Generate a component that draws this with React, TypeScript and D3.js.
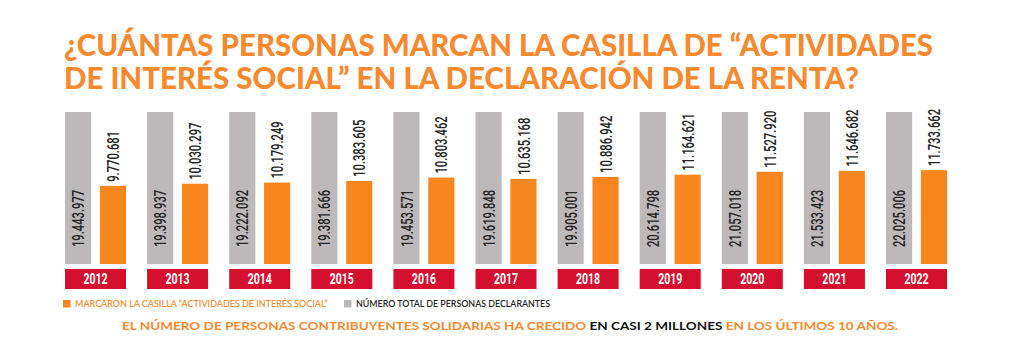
import React from "react";
import * as d3 from "d3";

const years = ["2012","2013","2014","2015","2016","2017","2018","2019","2020","2021","2022"];
const totalDeclarantes = [19443977,19398937,19222092,19381666,19453571,19619848,19905001,20614798,21057018,21533423,22025006];
const marcaron = [9770681,10030297,10179249,10383605,10803462,10635168,10886942,11164621,11527920,11646682,11733662];
const seriesKeys = ["total","marcaron"];
const titleLines = ["¿CUÁNTAS PERSONAS MARCAN LA CASILLA DE “ACTIVIDADES","DE INTERÉS SOCIAL” EN LA DECLARACIÓN DE LA RENTA?"];
const legendLabels = ["MARCARON LA CASILLA “ACTIVIDADES DE INTERÉS SOCIAL”","NÚMERO TOTAL DE PERSONAS DECLARANTES"];
const footerParts = [
  { t: "EL NÚMERO DE PERSONAS CONTRIBUYENTES SOLIDARIAS HA CRECIDO ", hi: false },
  { t: "EN CASI 2 MILLONES", hi: true },
  { t: " EN LOS ÚLTIMOS 10 AÑOS.", hi: false },
];

const ORANGE = "#F7861F";
const GRAY = "#BDB9BA";
const RED = "#D4102E";
const TITLE = "#F7892F";
const DARK = "#262626";

const fmt = (v: number) => d3.format(",")(v).replace(/,/g, ".");

export default function App() {
  const W = 1018, H = 353;
  const x = d3.scaleBand<string>().domain(years).range([65, 947]).paddingInner(0.257).paddingOuter(0);
  const xi = d3.scaleBand<string>().domain(seriesKeys).range([0, x.bandwidth()]).paddingInner(0.25);
  const y = d3.scaleLinear().domain([0, 19000000]).range([264, 112]);
  const condensed = "Roboto, sans-serif";
  const heavy = "Lato, 'Open Sans', sans-serif";

  return (
    <svg width={W} height={H} style={{ position: "absolute", left: 0, top: 0, background: "#fff" }}>
      {titleLines.map((t, i) => (
        <text key={i} x={64} y={56 + i * 33} fill={TITLE} fontFamily={heavy} fontWeight={900} fontSize={30}
          textLength={i === 0 ? 869 : 795} lengthAdjust="spacingAndGlyphs">{t}</text>
      ))}
      {years.map((yr, i) => {
        const gx = x(yr)!;
        const tx = gx + xi("total")!;
        const ox = gx + xi("marcaron")!;
        const bw = xi.bandwidth();
        const oy = y(marcaron[i]);
        return (
          <g key={yr}>
            <rect x={tx} y={y.range()[1]} width={bw} height={y(0) - y.range()[1]} fill={GRAY} />
            <rect x={ox} y={oy} width={bw} height={y(0) - oy} fill={ORANGE} />
            <text transform={`translate(${tx + bw / 2},${y(0) - 17}) rotate(-90) scale(0.66,1)`}
              dy="0.36em" fill={DARK} fontFamily={condensed} fontWeight={500} fontSize={17}>{fmt(totalDeclarantes[i])}</text>
            <text transform={`translate(${ox + bw / 2},${oy - 4}) rotate(-90) scale(0.66,1)`}
              dy="0.36em" fill={DARK} fontFamily={condensed} fontWeight={500} fontSize={17}>{fmt(marcaron[i])}</text>
            <rect x={gx} y={269} width={x.bandwidth()} height={20} fill={RED} />
            <text transform={`translate(${gx + x.bandwidth() / 2},279) scale(0.7,1)`} dy="0.36em"
              textAnchor="middle" fill="#fff" fontFamily={condensed} fontWeight={700} fontSize={15}>{yr}</text>
          </g>
        );
      })}
      <rect x={63} y={300} width={7.5} height={7.5} fill={ORANGE} />
      <text x={75} y={307} fill="#F6903A" fontFamily={heavy} fontWeight={600} fontSize={8.5}
        textLength={253} lengthAdjust="spacingAndGlyphs">{legendLabels[0]}</text>
      <rect x={344} y={300} width={7.5} height={7.5} fill={GRAY} />
      <text x={356} y={307} fill={DARK} fontFamily={heavy} fontWeight={600} fontSize={8.5}
        textLength={194} lengthAdjust="spacingAndGlyphs">{legendLabels[1]}</text>
      <text x={122} y={330} fontFamily={heavy} fontWeight={700} fontSize={11}
        textLength={776} lengthAdjust="spacingAndGlyphs">
        {footerParts.map((p, i) => (
          <tspan key={i} fill={p.hi ? "#111" : "#F7892F"}>{p.t}</tspan>
        ))}
      </text>
    </svg>
  );
}
